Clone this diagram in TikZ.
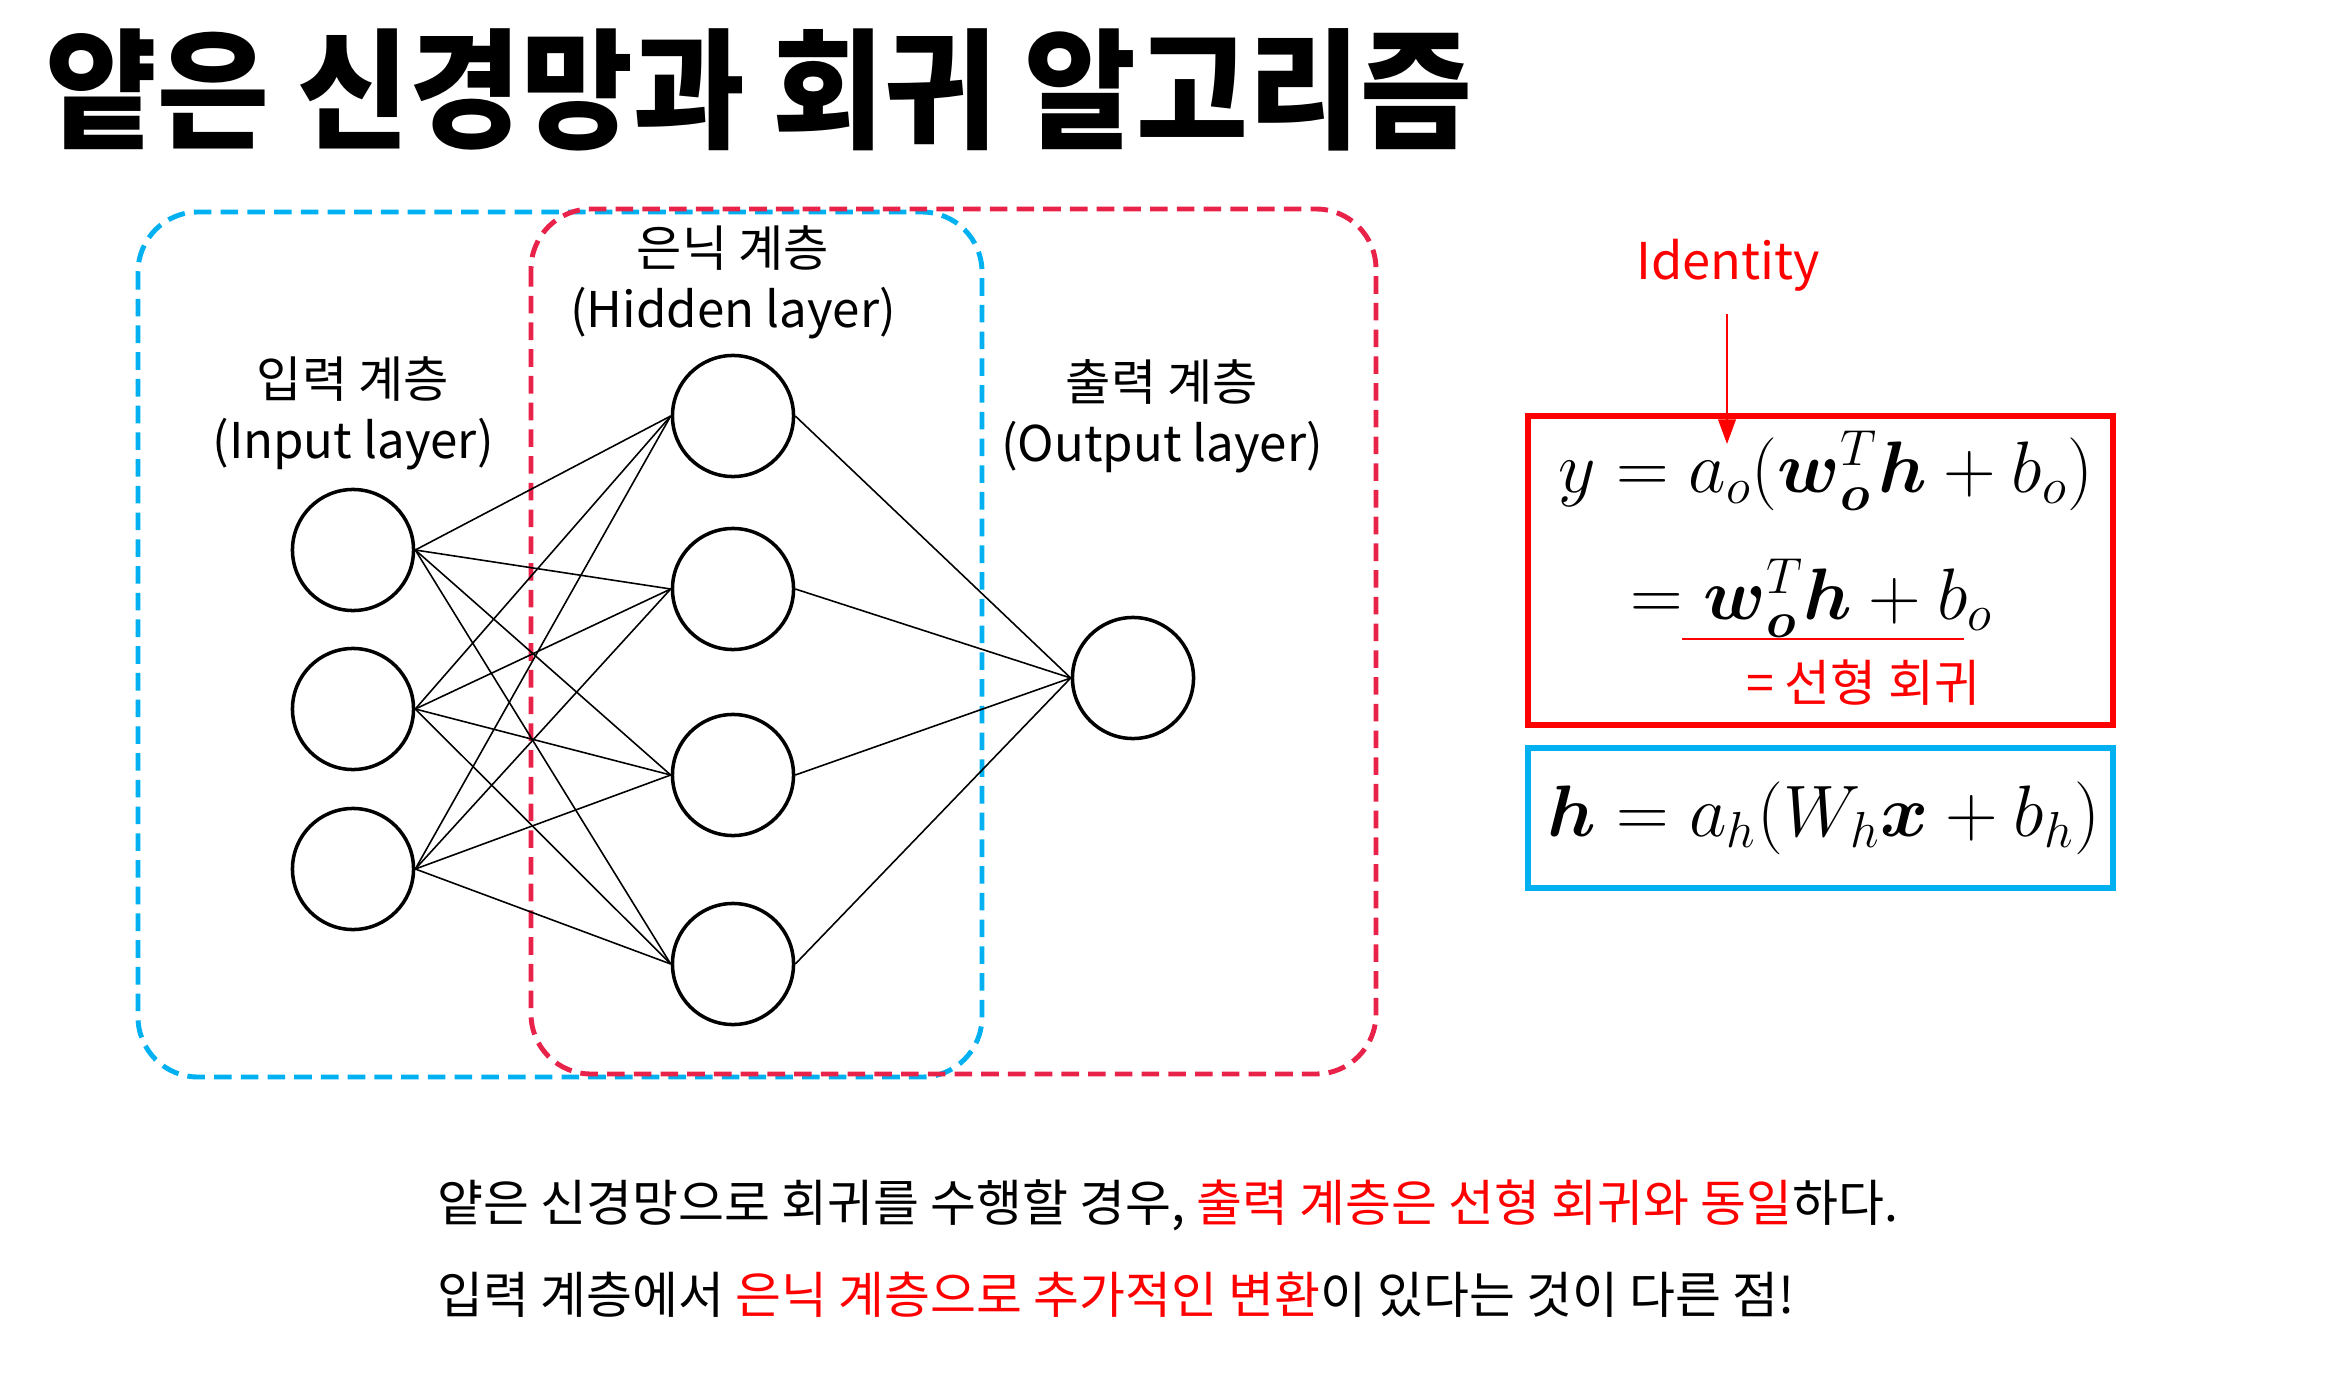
\documentclass[tikz,border=0pt]{standalone}
\usepackage{amsmath}
\usepackage{fontspec}
\setmainfont{Noto Sans CJK KR}
\usetikzlibrary{arrows.meta}
\definecolor{skyblue}{RGB}{0,176,240}
\definecolor{crimson}{RGB}{232,34,72}
\definecolor{pured}{RGB}{255,0,0}
\begin{document}
\begin{tikzpicture}[x=0.01cm,y=-0.01cm,
  neuron/.style={circle, draw, line width=1pt, minimum size=1.21cm, inner sep=0pt},
  link/.style={line width=0.45pt},
  layerlabel/.style={align=center, inner sep=0pt, font=\fontsize{14}{17.4}\selectfont},
  groupbox/.style={dashed, dash pattern=on 5pt off 2.6pt, line width=1.4pt, rounded corners=0.6cm},
  formbox/.style={line width=1.7pt},
  formula/.style={inner sep=0pt, font=\fontsize{21}{25}\selectfont},
  bodytext/.style={anchor=west, inner sep=0pt, font=\fontsize{14.2}{18}\selectfont},
]
\useasboundingbox (0,0) rectangle (2345,1385);

% title
\node[anchor=west, inner sep=0pt, font=\fontsize{37}{44}\selectfont\bfseries] (title) at (45,90) {\scalebox{0.935}[1]{얕은 신경망과 회귀 알고리즘}};

% layer groups
\draw[groupbox, skyblue] (138,212) rectangle (982,1077);
\draw[groupbox, crimson] (531,209) rectangle (1376,1074);

% neurons
\node[neuron] (i1) at (353,550) {};
\node[neuron] (i2) at (353,709) {};
\node[neuron] (i3) at (353,869) {};
\node[neuron] (h1) at (733,416) {};
\node[neuron] (h2) at (733,589) {};
\node[neuron] (h3) at (733,775) {};
\node[neuron] (h4) at (733,964) {};
\node[neuron] (o)  at (1133,678) {};

\foreach \i in {1,2,3}
  \foreach \j in {1,2,3,4}
    \draw[link] (i\i.east) -- (h\j.west);
\foreach \j in {1,2,3,4}
  \draw[link] (h\j.east) -- (o.west);

% layer labels
\node[layerlabel] (lin)  at (353,413) {입력 계층\\(Input layer)};
\node[layerlabel] (lhid) at (733,282) {은닉 계층\\(Hidden layer)};
\node[layerlabel] (lout) at (1162,416) {출력 계층\\(Output layer)};

% formulas
\draw[formbox, pured] (1528,416) rectangle (2113,725);
\draw[formbox, skyblue] (1528,748) rectangle (2113,888);

\node[formula] (f1) at (1826,471) {$y = a_o(\boldsymbol{w}_{\boldsymbol{o}}^T\boldsymbol{h} + b_o)$};
\node[formula, anchor=west] (f2) at (1630,598) {$= \boldsymbol{w}_{\boldsymbol{o}}^T\boldsymbol{h} + b_o$};
\draw[pured, line width=0.6pt] (1682,639) -- (1964,639);
\node[inner sep=0pt, text=pured, font=\fontsize{14.2}{18}\selectfont] (lin2) at (1863,683) {= 선형 회귀};
\node[formula] (f3) at (1824,818) {$\boldsymbol{h} = a_h(W_h\boldsymbol{x} + b_h)$};

\node[inner sep=0pt, text=pured, font=\fontsize{14.4}{18}\selectfont] (ident) at (1728,265) {Identity};
\coordinate (tip) at (1727,444);
\draw[pured, line width=0.6pt, -{Triangle[length=7pt,width=5pt]}] (ident.south -| tip) ++(0,22) -- (tip);

% explanation
\node[bodytext] (t1) at (437,1205) {얕은 신경망으로 회귀를 수행할 경우, \textcolor{pured}{출력 계층은 선형 회귀와 동일}하다.};
\node[bodytext] (t2) at (437,1295) {입력 계층에서 \textcolor{pured}{은닉 계층으로 추가적인 변환}이 있다는 것이 다른 점!};
\end{tikzpicture}
\end{document}
